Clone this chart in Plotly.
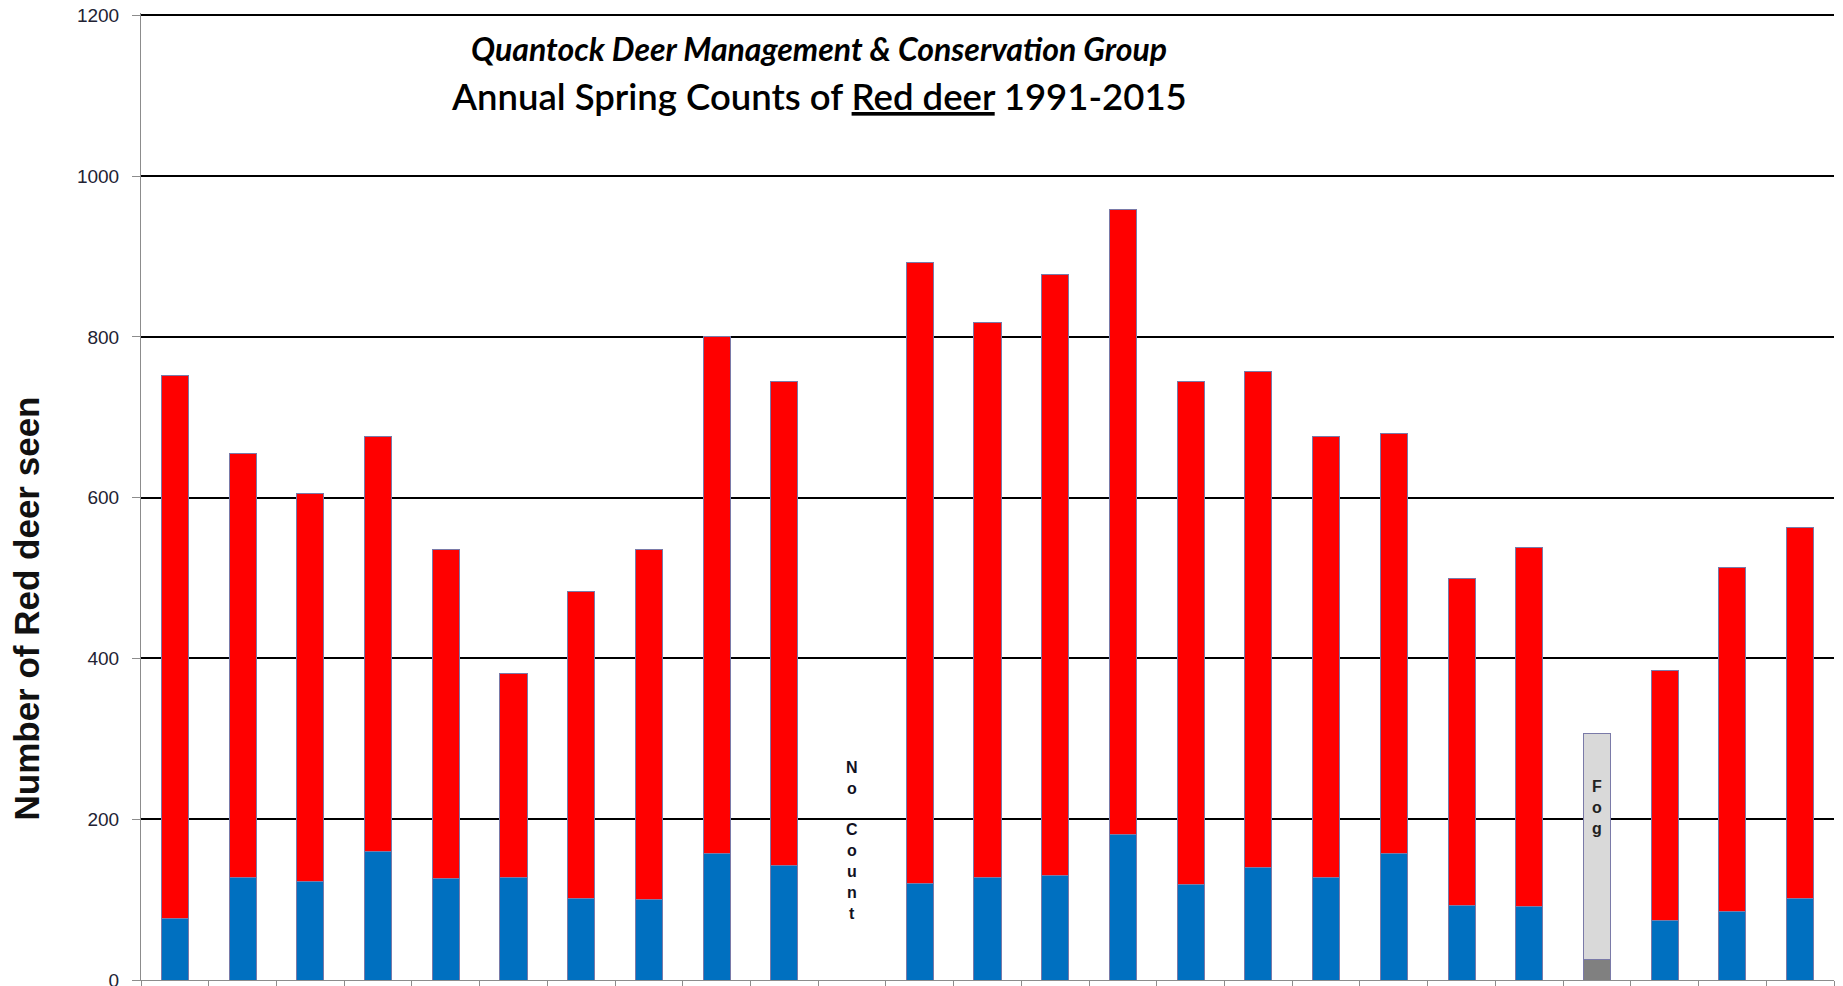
import plotly.graph_objects as go

years = [str(y) for y in range(1991, 2016)]
# lower (blue) segment of each bar
blue_counts = [76, 128, 123, 160, 126, 128, 102, 100, 157, 143, None, 120, 127,
               130, 181, 119, 140, 128, 157, 93, 91, None, 74, 85, 102]
# upper (red) segment of each bar
red_counts = [676, 527, 482, 516, 410, 253, 381, 436, 643, 602, None, 772, 691,
              748, 777, 626, 617, 548, 523, 406, 447, None, 311, 428, 461]
# 2012 count abandoned because of fog
fog_years = ["2012"]
fog_lower = [25]
fog_upper = [282]

no_count_year = "2001"
y_ticks = [0, 200, 400, 600, 800, 1000, 1200]

outline = dict(color="#7A7AA8", width=1)

fig = go.Figure()
fig.add_trace(go.Bar(x=years, y=blue_counts, marker=dict(color="#0070C0", line=outline),
                     name="blue"))
fig.add_trace(go.Bar(x=fog_years, y=fog_lower, marker=dict(color="#808080", line=outline),
                     name="fog lower"))
fig.add_trace(go.Bar(x=years, y=red_counts, marker=dict(color="#FF0000", line=outline),
                     name="red"))
fig.add_trace(go.Bar(x=fog_years, y=fog_upper, marker=dict(color="#D9D9D9", line=outline),
                     name="fog upper"))

fig.update_layout(
    width=1843, height=986,
    margin=dict(l=141, r=9, t=13, b=6, autoexpand=False),
    barmode="stack", bargap=0.6,
    showlegend=False,
    plot_bgcolor="white", paper_bgcolor="white",
    font=dict(family="Liberation Sans, Arial, sans-serif", color="#1a1a1a"),
)
fig.update_xaxes(
    type="category", categoryorder="array", categoryarray=years,
    range=[-0.5, len(years) - 0.5],
    showticklabels=False, showgrid=False, zeroline=False,
    showline=True, linecolor="#8c8c8c", linewidth=1,
    ticks="outside", tickson="boundaries", ticklen=6, tickcolor="#8c8c8c",
    automargin=False,
)
fig.update_yaxes(
    range=[0, 1203], tickvals=y_ticks, ticktext=[str(v) for v in y_ticks],
    showgrid=True, gridcolor="#000000", gridwidth=1.5, zeroline=False,
    showline=True, linecolor="#8c8c8c", linewidth=1,
    ticks="outside", ticklen=8, tickcolor="#8c8c8c",
    tickfont=dict(size=19, family="Liberation Sans, Arial", color="#222233"),
    ticklabelstandoff=9, ticklabeloverflow="allow",
    automargin=False,
)

fig.add_annotation(
    x=0.4005, y=0.9628, xref="paper", yref="paper", showarrow=False,
    text="<b><i>Quantock Deer Management &amp; Conservation Group</i></b>",
    font=dict(family="Lato, Open Sans, sans-serif", size=32, color="#000000"),
    xanchor="center", yanchor="middle",
)
fig.add_annotation(
    x=0.4005, y=0.9142, xref="paper", yref="paper", showarrow=False,
    text="Annual Spring Counts of <span style='text-decoration:underline'>Red deer</span> 1991-2015",
    font=dict(family="Lato, Open Sans, sans-serif", size=36.5, color="#000000", weight=600),
    xanchor="center", yanchor="middle",
)
fig.add_annotation(
    x=-0.0676, y=0.3837, xref="paper", yref="paper", showarrow=False,
    text="<b>Number of Red deer seen</b>", textangle=-90,
    font=dict(family="Liberation Sans, Arial", size=35, color="#111111"),
    xanchor="center", yanchor="middle",
)
fig.add_annotation(
    x=years.index(no_count_year), y=174, showarrow=False,
    text="<b>N<br>o<br> <br>C<br>o<br>u<br>n<br>t</b>",
    font=dict(family="Liberation Sans, Arial", size=16, color="#111122"),
    xanchor="center", yanchor="middle",
)
fig.add_annotation(
    x=years.index(fog_years[0]), y=215, showarrow=False,
    text="<b>F<br>o<br>g</b>",
    font=dict(family="Liberation Sans, Arial", size=16, color="#222222"),
    xanchor="center", yanchor="middle",
)

fig.write_html("out.html", config={"displayModeBar": False},
               post_script="document.body.style.margin='0px';")
